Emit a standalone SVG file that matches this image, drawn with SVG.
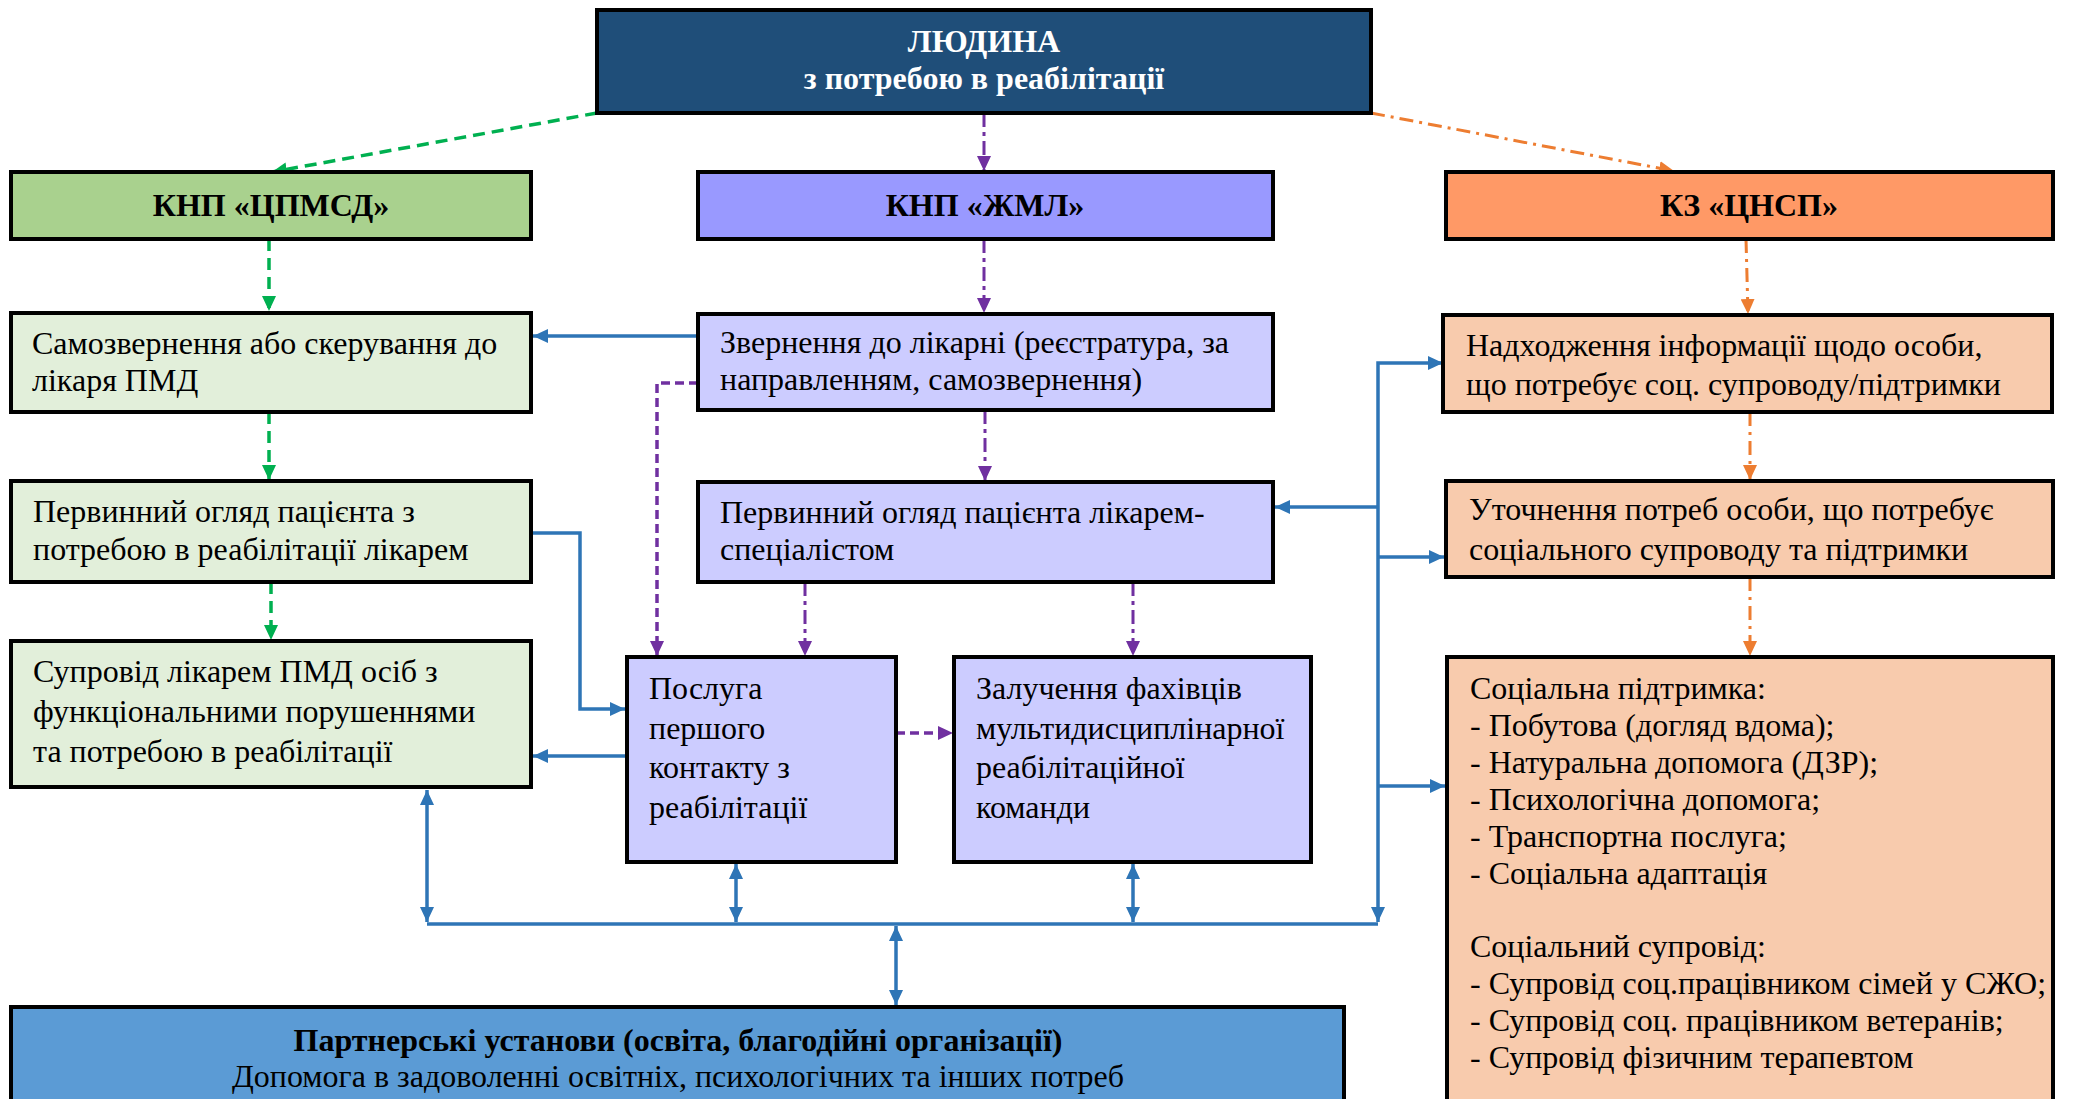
<svg xmlns="http://www.w3.org/2000/svg" width="2074" height="1099" viewBox="0 0 2074 1099">
<style>
.box{stroke:#000;stroke-width:4}
.t{font-family:'Liberation Serif','Times New Roman','DejaVu Serif',serif;font-size:32px;fill:#000}
.b{font-weight:bold}
.c{text-anchor:middle}
.w{fill:#fff}
.blue{fill:none;stroke:#2E75B6;stroke-width:3.5}
.green{fill:none;stroke:#00B050;stroke-width:3.5;stroke-dasharray:12 7}
.pur{fill:none;stroke:#7030A0;stroke-width:3;stroke-dasharray:14 5 4 5}
.purd{fill:none;stroke:#7030A0;stroke-width:3.5;stroke-dasharray:9 5}
.org{fill:none;stroke:#ED7D31;stroke-width:3;stroke-dasharray:14 6 3 6}
</style>
<defs>
<marker id="ab" markerUnits="userSpaceOnUse" markerWidth="16" markerHeight="14" refX="15" refY="7" orient="auto-start-reverse"><path d="M0,0 L15,7 L0,14 z" fill="#2E75B6"/></marker>
<marker id="ag" markerUnits="userSpaceOnUse" markerWidth="16" markerHeight="14" refX="15" refY="7" orient="auto"><path d="M0,0 L15,7 L0,14 z" fill="#00B050"/></marker>
<marker id="ap" markerUnits="userSpaceOnUse" markerWidth="16" markerHeight="14" refX="15" refY="7" orient="auto"><path d="M0,0 L15,7 L0,14 z" fill="#7030A0"/></marker>
<marker id="ao" markerUnits="userSpaceOnUse" markerWidth="16" markerHeight="14" refX="15" refY="7" orient="auto"><path d="M0,0 L15,7 L0,14 z" fill="#ED7D31"/></marker>
</defs>
<rect width="2074" height="1099" fill="#fff"/>

<g id="connectors">
<path class="green" d="M597,113 L272,172" marker-end="url(#ag)"/>
<path class="green" d="M269,239 V311" marker-end="url(#ag)"/>
<path class="green" d="M269,412 V480" marker-end="url(#ag)"/>
<path class="green" d="M271,582 V640" marker-end="url(#ag)"/>
<path class="pur" d="M984,113 V171" marker-end="url(#ap)"/>
<path class="pur" d="M984,239 V313" marker-end="url(#ap)"/>
<path class="pur" d="M985,410 V481" marker-end="url(#ap)"/>
<path class="pur" d="M805,582 V656" marker-end="url(#ap)"/>
<path class="pur" d="M1133,582 V656" marker-end="url(#ap)"/>
<path class="purd" d="M698,383 H657 V656" marker-end="url(#ap)"/>
<path class="purd" d="M896,733 H953" marker-end="url(#ap)"/>
<path class="org" d="M1371,113 L1674,171" marker-end="url(#ao)"/>
<path class="org" d="M1746,239 L1748,314" marker-end="url(#ao)"/>
<path class="org" d="M1750,412 V480" marker-end="url(#ao)"/>
<path class="org" d="M1750,577 V656" marker-end="url(#ao)"/>
<path class="blue" d="M698,336 H533" marker-end="url(#ab)"/>
<path class="blue" d="M533,533 H580 V709 H625" marker-end="url(#ab)"/>
<path class="blue" d="M627,756 H533" marker-end="url(#ab)"/>
<path class="blue" d="M427,924 H1378"/>
<path class="blue" d="M427,790 V922" marker-start="url(#ab)" marker-end="url(#ab)"/>
<path class="blue" d="M736,864 V922" marker-start="url(#ab)" marker-end="url(#ab)"/>
<path class="blue" d="M1133,864 V922" marker-start="url(#ab)" marker-end="url(#ab)"/>
<path class="blue" d="M896,926 V1005" marker-start="url(#ab)" marker-end="url(#ab)"/>
<path class="blue" d="M1443,363 H1378 V922" marker-start="url(#ab)" marker-end="url(#ab)"/>
<path class="blue" d="M1378,507 H1275" marker-end="url(#ab)"/>
<path class="blue" d="M1378,557 H1444" marker-end="url(#ab)"/>
<path class="blue" d="M1378,786 H1445" marker-end="url(#ab)"/>
</g>

<g id="lyudyna">
<rect class="box" x="597" y="10" width="774" height="103" fill="#1F4E79"/>
<text class="t b c w" x="984" y="52">ЛЮДИНА</text>
<text class="t b c w" x="984" y="89">з потребою в реабілітації</text>
</g>

<g id="cpmsd">
<rect class="box" x="11" y="172" width="520" height="67" fill="#A9D18E"/>
<text class="t b c" x="271" y="216">КНП «ЦПМСД»</text>
</g>
<g id="zhml">
<rect class="box" x="698" y="172" width="575" height="67" fill="#9999FF"/>
<text class="t b c" x="985" y="216">КНП «ЖМЛ»</text>
</g>
<g id="cnsp">
<rect class="box" x="1446" y="172" width="607" height="67" fill="#FF9966"/>
<text class="t b c" x="1749" y="216">КЗ «ЦНСП»</text>
</g>

<g id="samozvernennia">
<rect class="box" x="11" y="313" width="520" height="99" fill="#E2EFDA"/>
<text class="t" x="32" y="354">Самозвернення або скерування до</text>
<text class="t" x="32" y="391">лікаря ПМД</text>
</g>
<g id="zvernennia">
<rect class="box" x="698" y="314" width="575" height="96" fill="#CCCCFF"/>
<text class="t" x="720" y="353">Звернення до лікарні (реєстратура, за</text>
<text class="t" x="720" y="390">направленням, самозвернення)</text>
</g>
<g id="nadkhodzhennia">
<rect class="box" x="1443" y="315" width="609" height="97" fill="#F8CBAD"/>
<text class="t" x="1466" y="356">Надходження інформації щодо особи,</text>
<text class="t" x="1466" y="395">що потребує соц. супроводу/підтримки</text>
</g>

<g id="pervynnyi-pmd">
<rect class="box" x="11" y="481" width="520" height="101" fill="#E2EFDA"/>
<text class="t" x="33" y="522">Первинний огляд пацієнта з</text>
<text class="t" x="33" y="560">потребою в реабілітації лікарем</text>
</g>
<g id="pervynnyi-spec">
<rect class="box" x="698" y="482" width="575" height="100" fill="#CCCCFF"/>
<text class="t" x="720" y="523">Первинний огляд пацієнта лікарем-</text>
<text class="t" x="720" y="560">спеціалістом</text>
</g>
<g id="utochnennia">
<rect class="box" x="1446" y="481" width="607" height="96" fill="#F8CBAD"/>
<text class="t" x="1469" y="520">Уточнення потреб особи, що потребує</text>
<text class="t" x="1469" y="560">соціального супроводу та підтримки</text>
</g>

<g id="suprovid-pmd">
<rect class="box" x="11" y="641" width="520" height="146" fill="#E2EFDA"/>
<text class="t" x="33" y="682">Супровід лікарем ПМД осіб з</text>
<text class="t" x="33" y="722">функціональними порушеннями</text>
<text class="t" x="33" y="762">та потребою в реабілітації</text>
</g>
<g id="posluga">
<rect class="box" x="627" y="657" width="269" height="205" fill="#CCCCFF"/>
<text class="t" x="649" y="699">Послуга</text>
<text class="t" x="649" y="739">першого</text>
<text class="t" x="649" y="778">контакту з</text>
<text class="t" x="649" y="818">реабілітації</text>
</g>
<g id="zaluchennia">
<rect class="box" x="954" y="657" width="357" height="205" fill="#CCCCFF"/>
<text class="t" x="976" y="699">Залучення фахівців</text>
<text class="t" x="976" y="739">мультидисциплінарної</text>
<text class="t" x="976" y="778">реабілітаційної</text>
<text class="t" x="976" y="818">команди</text>
</g>
<g id="sotsialna">
<rect class="box" x="1447" y="657" width="606" height="450" fill="#F8CBAD"/>
<text class="t" x="1470" y="699">Соціальна підтримка:</text>
<text class="t" x="1470" y="736">- Побутова (догляд вдома);</text>
<text class="t" x="1470" y="773">- Натуральна допомога (ДЗР);</text>
<text class="t" x="1470" y="810">- Психологічна допомога;</text>
<text class="t" x="1470" y="847">- Транспортна послуга;</text>
<text class="t" x="1470" y="884">- Соціальна адаптація</text>
<text class="t" x="1470" y="957">Соціальний супровід:</text>
<text class="t" x="1470" y="994">- Супровід соц.працівником сімей у СЖО;</text>
<text class="t" x="1470" y="1031">- Супровід соц. працівником ветеранів;</text>
<text class="t" x="1470" y="1068">- Супровід фізичним терапевтом</text>
</g>
<g id="partnery">
<rect class="box" x="11" y="1007" width="1333" height="100" fill="#5B9BD5"/>
<text class="t b c" x="678" y="1051">Партнерські установи (освіта, благодійні організації)</text>
<text class="t c" x="678" y="1087">Допомога в задоволенні освітніх, психологічних та інших потреб</text>
</g>
</svg>
